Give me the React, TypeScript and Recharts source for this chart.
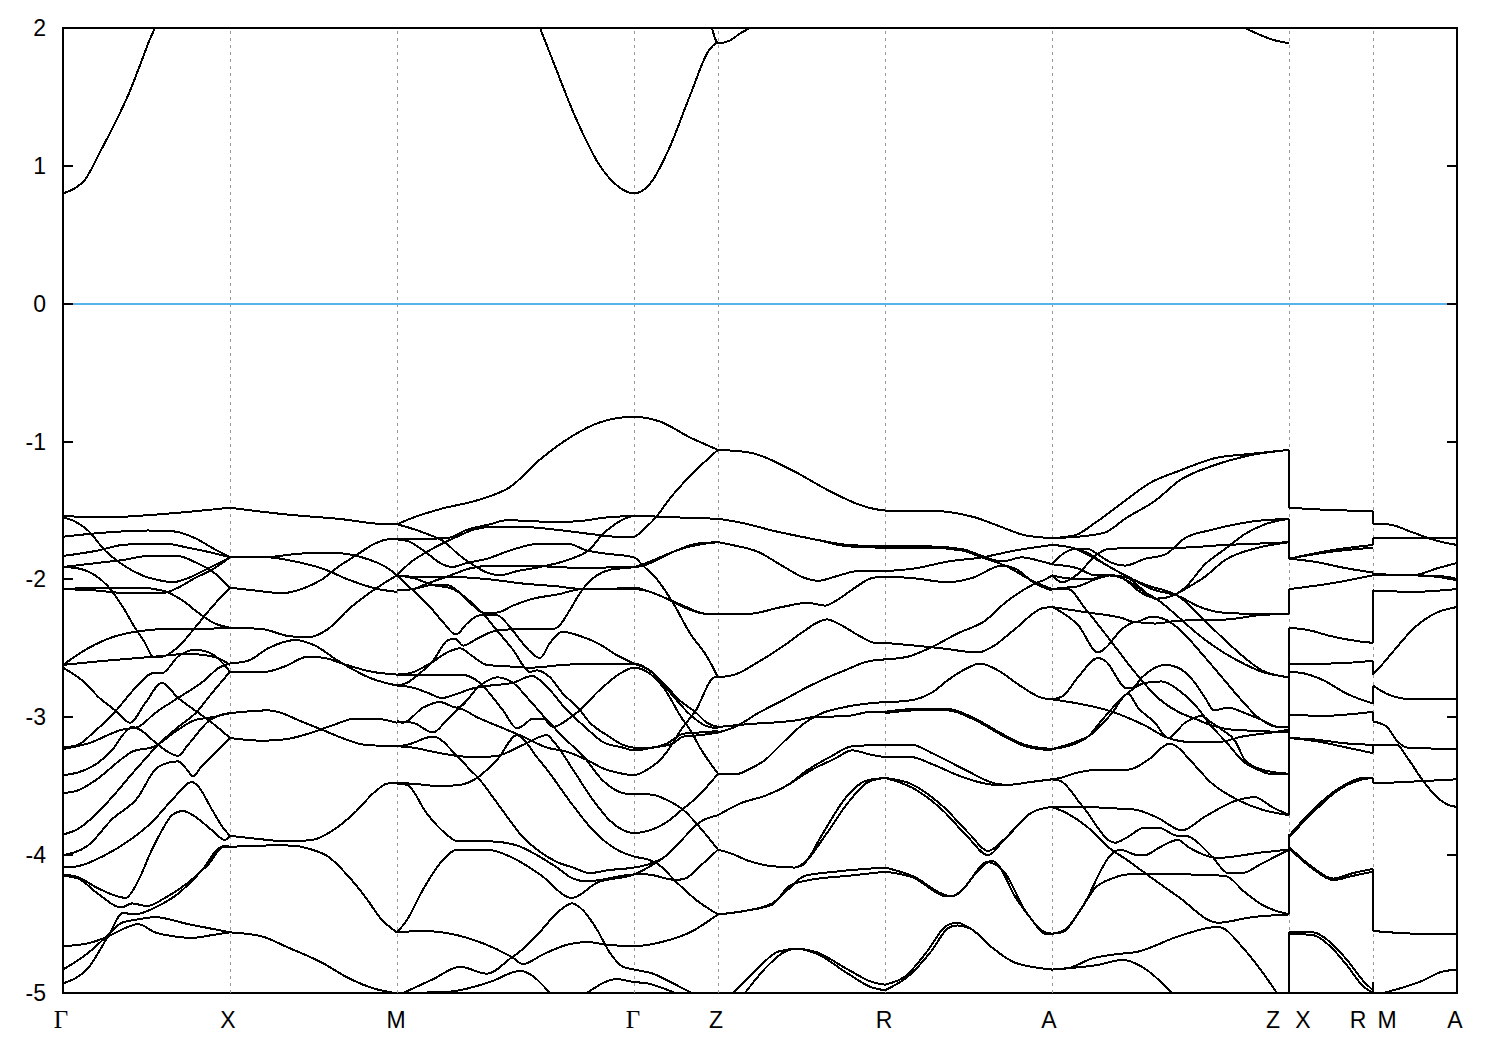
import { LineChart, Line, XAxis, YAxis, ReferenceLine, ReferenceArea } from "recharts";

type Band = [number, number][];

// ─── Axes ────────────────────────────────────────────────────────────────────
const K_MIN = 63;
const K_MAX = 1457;
const E_TICKS = [-5, -4, -3, -2, -1, 0, 1, 2];
const SYM_POINTS = [230, 397, 634, 718, 885, 1052, 1289, 1373];
const LABEL_POS = [63, 228, 396, 635, 716, 884, 1049, 1273, 1303, 1358, 1387, 1455];
const LABEL_TEXT = ["Γ", "X", "M", "Γ", "Z", "R", "A", "Z", "X", "R", "M", "A"];

// ─── Conduction band ─────────────────────────────────────────────────────────
const conduction: Band[] = [
  [[63, 0.8], [73, 0.83], [85, 0.9], [100, 1.1], [115, 1.31], [128, 1.51], [140, 1.73], [150, 1.92], [155, 2]],
  [[540, 2], [553, 1.76], [575, 1.36], [600, 1.0], [615, 0.87], [634, 0.8], [650, 0.87], [670, 1.14], [690, 1.51], [710, 1.85], [718, 1.9]],
  [[712, 2], [718, 1.89], [730, 1.91], [740, 1.96], [750, 2]],
  [[1245, 2], [1260, 1.95], [1275, 1.91], [1289, 1.89]],
];

// ─── Γ → X ───────────────────────────────────────────────────────────────────
const gammaX: Band[] = [
  [[63, -1.54], [105, -1.55], [155, -1.53], [230, -1.48]],
  [[63, -1.55], [75, -1.58], [88, -1.645], [105, -1.79], [122, -1.89], [142, -1.97], [162, -2.01], [173, -2.02], [188, -1.99], [208, -1.92], [230, -1.84]],
  [[63, -1.69], [105, -1.66], [148, -1.645], [172, -1.65], [195, -1.7], [212, -1.77], [230, -1.84]],
  [[63, -1.83], [98, -1.79], [122, -1.75], [148, -1.74], [165, -1.74], [188, -1.77], [208, -1.8], [230, -1.84]],
  [[63, -1.91], [98, -1.88], [122, -1.86], [148, -1.83], [178, -1.83], [195, -1.875], [212, -1.94], [230, -2.06]],
  [[63, -1.91], [78, -1.92], [95, -1.97], [108, -2.05], [122, -2.19], [135, -2.35], [145, -2.46], [153, -2.56], [162, -2.56], [178, -2.49], [195, -2.35], [212, -2.2], [230, -2.06]],
  [[63, -2.07], [105, -2.06], [138, -2.06], [162, -2.08], [182, -2.15], [198, -2.24], [215, -2.32], [230, -2.35]],
  [[63, -2.07], [95, -2.08], [128, -2.1], [162, -2.1], [178, -2.06], [195, -1.99], [212, -1.93], [230, -1.84]],
  [[63, -2.62], [88, -2.5], [112, -2.42], [135, -2.38], [165, -2.36], [195, -2.36], [230, -2.35]],
  [[63, -2.62], [105, -2.59], [155, -2.56], [188, -2.54], [205, -2.55], [218, -2.57], [230, -2.62]],
  [[63, -3.22], [78, -3.2], [92, -3.12], [115, -2.96], [135, -2.79], [153, -2.68], [162, -2.68], [178, -2.56], [195, -2.51], [212, -2.54], [230, -2.67]],
  [[63, -2.64], [85, -2.75], [98, -2.85], [117, -2.96], [130, -3.04], [145, -2.9], [162, -2.75], [178, -2.86], [195, -2.95], [212, -3.04], [230, -3.15]],
  [[63, -3.23], [88, -3.19], [122, -3.09], [138, -3.07], [155, -2.97], [178, -2.86], [205, -2.73], [218, -2.645], [230, -2.61]],
  [[63, -3.42], [78, -3.4], [98, -3.33], [112, -3.24], [125, -3.11], [132, -3.07], [140, -3.09], [155, -3.18], [170, -3.26], [178, -3.28], [188, -3.2], [210, -3.02], [222, -2.98], [230, -2.97]],
  [[63, -3.55], [78, -3.53], [95, -3.46], [122, -3.3], [132, -3.25], [155, -3.21], [178, -3.09], [195, -3.02], [212, -3.0], [230, -2.97]],
  [[63, -3.85], [78, -3.81], [92, -3.73], [112, -3.58], [132, -3.41], [143, -3.32], [158, -3.2], [180, -3.06], [197, -2.96], [208, -2.86], [230, -2.67]],
  [[63, -4.0], [88, -3.93], [112, -3.74], [138, -3.58], [155, -3.38], [168, -3.33], [178, -3.32], [187, -3.38], [193, -3.43], [200, -3.37], [212, -3.28], [230, -3.15]],
  [[63, -4.09], [78, -4.08], [105, -4.0], [132, -3.88], [152, -3.76], [172, -3.6], [192, -3.47], [198, -3.5], [212, -3.67], [222, -3.79], [230, -3.86]],
  [[63, -4.14], [78, -4.16], [98, -4.24], [126, -4.31], [135, -4.23], [152, -3.96], [162, -3.82], [172, -3.71], [183, -3.68], [195, -3.72], [212, -3.82], [225, -3.89], [230, -3.86]],
  [[63, -4.15], [78, -4.17], [98, -4.28], [121, -4.38], [132, -4.35], [147, -4.37], [165, -4.31], [188, -4.2], [208, -4.07], [225, -3.93], [230, -3.94]],
  [[63, -4.93], [88, -4.82], [108, -4.59], [123, -4.42], [135, -4.43], [155, -4.38], [178, -4.28], [202, -4.11], [222, -3.94], [230, -3.94]],
  [[63, -4.83], [88, -4.71], [108, -4.58], [122, -4.49], [135, -4.47], [155, -4.45], [188, -4.5], [230, -4.56]],
  [[63, -4.66], [88, -4.64], [108, -4.59], [125, -4.53], [138, -4.5], [155, -4.56], [175, -4.59], [192, -4.6], [212, -4.58], [230, -4.56]],
];

// ─── X → M ───────────────────────────────────────────────────────────────────
const xM: Band[] = [
  [[230, -1.48], [288, -1.53], [338, -1.56], [388, -1.6], [397, -1.6]],
  [[230, -1.84], [262, -1.84], [308, -1.81], [338, -1.81], [362, -1.84], [388, -1.92], [397, -1.97]],
  [[230, -1.84], [268, -1.84], [295, -1.87], [322, -1.92], [348, -2.0], [378, -2.07], [397, -2.09]],
  [[230, -2.06], [255, -2.08], [282, -2.1], [305, -2.06], [322, -2.0], [338, -1.91], [355, -1.83], [375, -1.74], [388, -1.71], [397, -1.71]],
  [[230, -2.35], [262, -2.36], [288, -2.41], [308, -2.42], [328, -2.36], [348, -2.22], [375, -2.07], [397, -1.97]],
  [[230, -2.61], [248, -2.59], [268, -2.5], [295, -2.44], [315, -2.48], [338, -2.59], [372, -2.72], [397, -2.77]],
  [[230, -2.67], [265, -2.67], [285, -2.63], [308, -2.56], [325, -2.57], [342, -2.61], [372, -2.67], [397, -2.69]],
  [[230, -2.97], [268, -2.95], [282, -2.97], [298, -3.02], [322, -3.09], [342, -3.15], [365, -3.2], [397, -3.21]],
  [[230, -3.15], [262, -3.17], [285, -3.16], [308, -3.12], [332, -3.06], [355, -3.01], [375, -3.01], [397, -3.04]],
  [[230, -3.86], [255, -3.88], [288, -3.9], [312, -3.89], [335, -3.81], [355, -3.69], [375, -3.54], [388, -3.48], [397, -3.48]],
  [[230, -3.94], [268, -3.93], [288, -3.93], [312, -3.96], [328, -4.01], [348, -4.15], [365, -4.3], [382, -4.47], [395, -4.55], [397, -4.56]],
  [[230, -4.56], [262, -4.59], [288, -4.67], [322, -4.78], [348, -4.89], [375, -4.97], [395, -5]],
];

// ─── M → Γ → Z ───────────────────────────────────────────────────────────────
const mGammaZ: Band[] = [
  [[397, -1.6], [410, -1.56], [440, -1.49], [480, -1.42], [510, -1.33], [540, -1.13], [570, -0.97], [600, -0.86], [634, -0.82], [660, -0.855], [690, -0.97], [718, -1.06]],
  [[397, -1.6], [407, -1.62], [427, -1.67], [445, -1.73], [457, -1.81], [470, -1.88], [487, -1.95], [500, -1.97], [517, -1.94], [540, -1.91], [567, -1.86], [590, -1.78], [603, -1.67], [617, -1.59], [634, -1.54], [677, -1.55], [718, -1.56]],
  [[397, -1.71], [447, -1.7], [467, -1.64], [490, -1.6], [507, -1.57], [540, -1.58], [573, -1.58], [607, -1.55], [634, -1.54], [677, -1.55], [718, -1.56]],
  [[397, -1.97], [410, -1.88], [427, -1.8], [445, -1.73], [457, -1.69], [473, -1.64], [490, -1.62], [523, -1.62], [557, -1.64], [590, -1.67], [617, -1.69], [634, -1.69], [643, -1.64], [657, -1.54], [668, -1.43], [690, -1.25], [718, -1.06]],
  [[397, -1.71], [407, -1.72], [427, -1.81], [440, -1.88], [452, -1.91], [467, -1.88], [487, -1.85], [510, -1.79], [540, -1.74], [567, -1.74], [587, -1.79], [603, -1.81], [634, -1.84], [643, -1.9], [657, -2.0], [673, -2.17], [690, -2.39], [707, -2.56], [718, -2.71]],
  [[397, -1.97], [413, -1.98], [447, -1.98], [490, -2.0], [523, -2.03], [557, -2.05], [583, -2.07], [603, -2.07], [634, -2.07], [650, -2.09], [667, -2.14], [683, -2.19], [707, -2.25], [718, -2.25]],
  [[397, -2.08], [413, -2.07], [427, -2.03], [447, -1.98], [470, -1.92], [493, -1.9], [523, -1.9], [557, -1.91], [590, -1.92], [617, -1.91], [634, -1.91], [643, -1.9], [657, -1.86], [673, -1.8], [697, -1.75], [718, -1.73]],
  [[397, -1.97], [413, -2.08], [430, -2.2], [443, -2.31], [456, -2.4], [467, -2.32], [480, -2.26], [497, -2.26], [507, -2.32], [517, -2.41], [527, -2.5], [540, -2.57], [550, -2.46], [562, -2.38], [580, -2.41], [597, -2.46], [617, -2.55], [634, -2.61], [650, -2.66], [667, -2.78], [680, -2.88], [695, -2.96], [707, -3.04], [718, -3.07]],
  [[397, -1.97], [413, -1.99], [433, -2.04], [453, -2.07], [467, -2.14], [482, -2.24], [497, -2.37], [513, -2.51], [530, -2.67], [537, -2.66], [550, -2.71], [563, -2.83], [578, -2.93], [590, -3.04], [607, -3.13], [623, -3.2], [634, -3.22], [650, -3.22], [667, -3.19], [683, -3.12], [700, -3.11], [718, -3.1]],
  [[397, -2.08], [413, -2.07], [433, -2.04], [447, -2.04], [457, -2.08], [473, -2.19], [483, -2.24], [497, -2.24], [513, -2.19], [533, -2.14], [557, -2.11], [583, -2.07], [603, -2.07], [634, -2.06], [650, -2.09], [667, -2.14], [683, -2.2], [707, -2.25], [718, -2.25]],
  [[397, -2.69], [410, -2.68], [430, -2.61], [450, -2.52], [460, -2.5], [473, -2.56], [487, -2.62], [507, -2.63], [530, -2.64], [563, -2.62], [597, -2.61], [634, -2.61], [653, -2.68], [670, -2.82], [690, -2.98], [705, -3.06], [718, -3.08]],
  [[397, -2.77], [407, -2.75], [420, -2.68], [433, -2.59], [448, -2.44], [455, -2.43], [463, -2.48], [477, -2.43], [497, -2.37], [523, -2.36], [553, -2.36], [560, -2.33], [570, -2.22], [580, -2.1], [590, -2.01], [597, -1.97], [610, -1.93], [634, -1.91], [650, -1.87], [673, -1.8], [697, -1.74], [718, -1.73]],
  [[397, -2.69], [460, -2.69], [480, -2.75], [490, -2.83], [503, -2.95], [517, -3.08], [523, -3.06], [533, -3.01], [543, -3.01], [553, -3.07], [567, -3.02], [578, -2.96], [600, -2.8], [623, -2.67], [634, -2.64], [647, -2.67], [663, -2.78], [683, -3.02], [690, -3.09], [700, -3.22], [718, -3.41]],
  [[397, -2.77], [410, -2.78], [427, -2.82], [442, -2.86], [457, -2.83], [473, -2.79], [490, -2.77], [513, -2.75], [532, -2.7], [547, -2.78], [567, -2.95], [585, -3.07], [603, -3.18], [623, -3.22], [634, -3.24], [653, -3.22], [673, -3.19], [683, -3.14], [700, -3.13], [718, -3.11]],
  [[397, -3.03], [403, -3.04], [423, -2.93], [440, -2.89], [457, -2.93], [480, -2.77], [497, -2.71], [513, -2.75], [530, -2.88], [547, -3.02], [567, -3.17], [583, -3.28], [603, -3.46], [623, -3.55], [634, -3.56], [650, -3.56], [667, -3.6], [683, -3.67], [700, -3.8], [718, -3.96]],
  [[397, -3.03], [413, -3.04], [433, -3.11], [447, -3.02], [460, -2.94], [477, -3.0], [500, -3.07], [523, -3.14], [547, -3.22], [567, -3.25], [587, -3.31], [603, -3.37], [623, -3.41], [634, -3.42], [647, -3.38], [660, -3.31], [667, -3.25], [683, -3.07], [695, -2.96], [715, -2.71], [718, -2.71]],
  [[397, -3.21], [413, -3.22], [433, -3.25], [457, -3.28], [477, -3.29], [497, -3.28], [523, -3.2], [547, -3.13], [553, -3.17], [573, -3.38], [593, -3.6], [610, -3.75], [634, -3.84], [650, -3.82], [667, -3.76], [682, -3.67], [697, -3.58], [718, -3.41]],
  [[397, -3.21], [407, -3.2], [433, -3.14], [457, -3.28], [470, -3.38], [477, -3.43], [500, -3.65], [523, -3.87], [537, -3.96], [557, -4.05], [573, -4.09], [590, -4.13], [607, -4.11], [634, -4.09], [647, -4.07], [667, -4.0], [683, -3.88], [700, -3.76], [718, -3.71]],
  [[397, -3.48], [407, -3.48], [440, -3.5], [460, -3.49], [477, -3.44], [487, -3.38], [497, -3.31], [517, -3.13], [522, -3.15], [537, -3.29], [547, -3.38], [573, -3.64], [593, -3.82], [617, -3.96], [634, -4.01], [647, -4.03], [657, -4.06], [677, -4.2], [697, -4.33], [718, -4.43]],
  [[397, -3.48], [407, -3.49], [427, -3.7], [445, -3.84], [458, -3.9], [490, -3.9], [517, -3.93], [537, -4.0], [557, -4.09], [573, -4.17], [587, -4.19], [600, -4.18], [634, -4.14], [647, -4.14], [675, -4.18], [685, -4.17], [700, -4.08], [718, -3.96]],
  [[397, -4.56], [407, -4.47], [423, -4.25], [440, -4.06], [458, -3.96], [487, -3.96], [513, -4.02], [540, -4.14], [572, -4.31], [597, -4.2], [634, -4.14], [657, -4.05], [667, -4.0], [683, -3.88], [700, -3.76], [718, -3.71]],
  [[397, -4.56], [423, -4.55], [457, -4.58], [483, -4.64], [512, -4.74], [523, -4.79], [543, -4.72], [567, -4.65], [587, -4.63], [607, -4.65], [634, -4.66], [667, -4.62], [690, -4.56], [718, -4.43]],
  [[403, -5], [433, -4.9], [460, -4.81], [487, -4.86], [512, -4.74], [518, -4.71], [537, -4.58], [560, -4.4], [572, -4.35], [583, -4.4], [597, -4.54], [610, -4.71], [623, -4.81], [634, -4.83], [653, -4.86], [673, -4.93], [692, -5]],
  [[403, -5], [450, -4.99], [490, -4.92], [520, -4.84], [550, -5]],
  [[587, -5], [617, -4.9], [634, -4.92], [647, -4.93], [675, -5]],
];

// ─── Z → R ───────────────────────────────────────────────────────────────────
const zR: Band[] = [
  [[718, -1.06], [750, -1.08], [790, -1.2], [830, -1.36], [860, -1.46], [875, -1.49], [885, -1.5]],
  [[718, -1.56], [742, -1.59], [775, -1.65], [815, -1.71], [848, -1.75], [885, -1.76]],
  [[718, -1.56], [742, -1.59], [775, -1.65], [815, -1.71], [848, -1.76], [885, -1.77]],
  [[718, -1.73], [732, -1.75], [758, -1.8], [782, -1.9], [805, -1.99], [818, -2.01], [835, -1.98], [858, -1.94], [885, -1.94]],
  [[718, -2.25], [748, -2.25], [782, -2.2], [808, -2.17], [825, -2.19], [837, -2.15], [855, -2.06], [872, -1.99], [885, -1.98]],
  [[718, -2.71], [735, -2.69], [758, -2.6], [782, -2.49], [805, -2.37], [818, -2.31], [827, -2.29], [838, -2.32], [862, -2.42], [875, -2.46], [885, -2.46]],
  [[718, -3.11], [735, -3.07], [758, -2.97], [782, -2.88], [805, -2.79], [828, -2.71], [848, -2.65], [865, -2.6], [885, -2.58]],
  [[718, -3.07], [748, -3.05], [798, -3.02], [812, -3.0], [848, -2.99], [872, -2.96], [885, -2.96]],
  [[718, -3.41], [738, -3.41], [748, -3.38], [765, -3.31], [782, -3.19], [805, -3.04], [822, -2.97], [842, -2.93], [868, -2.9], [885, -2.89]],
  [[718, -3.71], [742, -3.62], [765, -3.57], [788, -3.49], [808, -3.38], [832, -3.28], [852, -3.21], [885, -3.2]],
  [[718, -3.71], [742, -3.62], [765, -3.57], [788, -3.49], [812, -3.38], [835, -3.3], [852, -3.24], [870, -3.27], [885, -3.29]],
  [[718, -3.96], [732, -3.99], [748, -4.04], [772, -4.08], [795, -4.09], [805, -4.05], [825, -3.86], [848, -3.62], [868, -3.47], [885, -3.44]],
  [[795, -4.09], [803, -4.07], [823, -3.84], [845, -3.59], [866, -3.46], [885, -3.44]],
  [[718, -4.43], [748, -4.4], [772, -4.35], [785, -4.27], [805, -4.15], [835, -4.12], [885, -4.09]],
  [[718, -4.43], [748, -4.4], [772, -4.36], [790, -4.22], [810, -4.18], [848, -4.15], [885, -4.12]],
  [[733, -5], [758, -4.82], [778, -4.7], [797, -4.68], [815, -4.7], [848, -4.83], [872, -4.92], [885, -4.94]],
  [[745, -5], [768, -4.8], [785, -4.7], [797, -4.68], [815, -4.71], [848, -4.86], [872, -4.96], [885, -4.98]],
];

// ─── R → A ───────────────────────────────────────────────────────────────────
const rA: Band[] = [
  [[885, -1.5], [925, -1.5], [948, -1.51], [975, -1.55], [998, -1.61], [1025, -1.68], [1052, -1.7]],
  [[885, -1.76], [928, -1.76], [962, -1.78], [982, -1.83], [1002, -1.87], [1022, -1.84], [1042, -1.87], [1052, -1.89]],
  [[885, -1.77], [928, -1.77], [962, -1.79], [982, -1.84], [1005, -1.9], [1035, -2.02], [1052, -2.07]],
  [[885, -1.94], [915, -1.92], [948, -1.87], [982, -1.84], [1015, -1.79], [1052, -1.75]],
  [[885, -1.98], [912, -1.99], [948, -2.02], [972, -1.99], [1002, -1.9], [1015, -1.92], [1035, -2.03], [1052, -2.08]],
  [[885, -2.46], [915, -2.48], [942, -2.5], [978, -2.53], [992, -2.49], [1015, -2.36], [1042, -2.21], [1052, -2.2]],
  [[885, -2.58], [908, -2.56], [932, -2.49], [958, -2.39], [985, -2.3], [1005, -2.17], [1035, -2.03], [1048, -1.99], [1052, -1.97]],
  [[885, -2.96], [915, -2.94], [948, -2.94], [975, -3.01], [1002, -3.12], [1025, -3.2], [1052, -3.23]],
  [[885, -2.97], [915, -2.95], [948, -2.95], [975, -3.02], [1002, -3.13], [1025, -3.21], [1052, -3.24]],
  [[885, -2.89], [908, -2.88], [932, -2.82], [948, -2.73], [968, -2.64], [980, -2.61], [998, -2.66], [1022, -2.78], [1042, -2.86], [1052, -2.87]],
  [[885, -3.2], [912, -3.2], [932, -3.26], [965, -3.38], [995, -3.48], [1008, -3.49], [1030, -3.47], [1052, -3.45]],
  [[885, -3.29], [912, -3.29], [932, -3.34], [965, -3.44], [995, -3.49], [1008, -3.49], [1030, -3.47], [1052, -3.45]],
  [[885, -3.44], [912, -3.51], [942, -3.67], [968, -3.87], [988, -4.0], [1005, -3.88], [1032, -3.69], [1052, -3.65]],
  [[885, -3.44], [910, -3.48], [942, -3.64], [970, -3.85], [988, -3.97], [1005, -3.88], [1032, -3.69], [1052, -3.65]],
  [[885, -4.09], [915, -4.16], [942, -4.28], [952, -4.3], [965, -4.23], [987, -4.05], [1005, -4.13], [1025, -4.4], [1045, -4.56], [1052, -4.57]],
  [[885, -4.12], [912, -4.16], [948, -4.3], [958, -4.28], [975, -4.14], [992, -4.04], [998, -4.07], [1015, -4.3], [1032, -4.47], [1045, -4.57], [1052, -4.57]],
  [[885, -4.94], [905, -4.88], [928, -4.69], [945, -4.52], [957, -4.49], [972, -4.54], [992, -4.67], [1015, -4.78], [1052, -4.83]],
  [[885, -4.98], [908, -4.88], [932, -4.69], [948, -4.53], [957, -4.51], [972, -4.54], [992, -4.67], [1015, -4.78], [1052, -4.83]],
];

// ─── A → Z ───────────────────────────────────────────────────────────────────
const aZ: Band[] = [
  [[1052, -1.7], [1075, -1.68], [1095, -1.59], [1125, -1.43], [1150, -1.3], [1180, -1.21], [1215, -1.12], [1250, -1.09], [1289, -1.06]],
  [[1052, -1.7], [1078, -1.69], [1105, -1.66], [1125, -1.56], [1155, -1.43], [1180, -1.28], [1215, -1.17], [1250, -1.1], [1289, -1.06]],
  [[1052, -1.75], [1072, -1.77], [1088, -1.81], [1105, -1.89], [1128, -1.98], [1152, -2.07], [1178, -2.12], [1200, -2.2], [1222, -2.24], [1258, -2.25], [1289, -2.25]],
  [[1052, -1.75], [1072, -1.77], [1090, -1.83], [1110, -1.91], [1130, -1.99], [1150, -2.05], [1165, -2.08], [1178, -2.12], [1202, -2.28], [1222, -2.42], [1245, -2.57], [1262, -2.66], [1289, -2.71]],
  [[1052, -1.89], [1062, -1.82], [1075, -1.78], [1088, -1.78], [1098, -1.82], [1112, -1.88], [1125, -1.9], [1145, -1.85], [1165, -1.82], [1185, -1.7], [1212, -1.64], [1252, -1.58], [1289, -1.56]],
  [[1052, -1.89], [1078, -1.92], [1095, -1.97], [1108, -1.97], [1125, -2.0], [1142, -2.08], [1158, -2.15], [1178, -2.27], [1195, -2.38], [1215, -2.49], [1238, -2.59], [1262, -2.67], [1289, -2.71]],
  [[1052, -1.97], [1062, -2.02], [1078, -1.96], [1095, -1.83], [1108, -1.78], [1138, -1.77], [1178, -1.77], [1225, -1.75], [1258, -1.74], [1289, -1.73]],
  [[1052, -1.97], [1065, -1.99], [1088, -2.0], [1108, -1.97], [1122, -1.99], [1142, -2.1], [1158, -2.14], [1172, -2.12], [1185, -2.06], [1205, -1.89], [1225, -1.78], [1245, -1.67], [1265, -1.6], [1289, -1.56]],
  [[1052, -2.07], [1065, -2.06], [1078, -2.05], [1095, -2.0], [1112, -1.97], [1128, -1.99], [1142, -2.07], [1155, -2.14], [1172, -2.12], [1185, -2.07], [1205, -1.98], [1225, -1.86], [1258, -1.77], [1289, -1.73]],
  [[1052, -2.07], [1068, -2.07], [1085, -2.21], [1108, -2.42], [1128, -2.61], [1138, -2.7], [1158, -2.86], [1178, -2.96], [1195, -3.01], [1212, -3.06], [1232, -3.09], [1262, -3.1], [1289, -3.11]],
  [[1052, -2.2], [1062, -2.24], [1078, -2.33], [1098, -2.53], [1105, -2.5], [1122, -2.36], [1135, -2.31], [1155, -2.32], [1178, -2.3], [1228, -2.29], [1258, -2.26], [1289, -2.25]],
  [[1052, -2.2], [1088, -2.24], [1122, -2.28], [1135, -2.31], [1152, -2.27], [1168, -2.3], [1182, -2.38], [1202, -2.54], [1222, -2.71], [1242, -2.88], [1258, -3.0], [1278, -3.07], [1289, -3.07]],
  [[1052, -2.87], [1078, -2.9], [1108, -2.95], [1145, -3.06], [1168, -3.15], [1192, -3.18], [1218, -3.18], [1242, -3.14], [1272, -3.11], [1289, -3.09]],
  [[1052, -2.87], [1062, -2.85], [1078, -2.71], [1098, -2.57], [1105, -2.59], [1127, -2.79], [1132, -2.79], [1142, -2.71], [1165, -2.62], [1178, -2.64], [1195, -2.75], [1206, -2.87], [1214, -2.95], [1228, -2.93], [1245, -2.97], [1262, -3.02], [1278, -3.07], [1289, -3.07]],
  [[1052, -3.23], [1072, -3.2], [1088, -3.14], [1102, -3.02], [1125, -2.84], [1145, -2.75], [1162, -2.74], [1178, -2.8], [1195, -2.91], [1212, -3.07], [1225, -3.17], [1245, -3.33], [1258, -3.38], [1270, -3.41], [1289, -3.41]],
  [[1052, -3.23], [1075, -3.18], [1090, -3.13], [1112, -2.97], [1128, -2.83], [1138, -2.93], [1155, -3.04], [1168, -3.15], [1185, -3.04], [1202, -2.99], [1208, -3.02], [1222, -3.09], [1235, -3.17], [1245, -3.31], [1262, -3.38], [1289, -3.41]],
  [[1052, -3.45], [1060, -3.44], [1078, -3.4], [1102, -3.38], [1128, -3.38], [1148, -3.31], [1170, -3.19], [1178, -3.22], [1190, -3.31], [1212, -3.48], [1238, -3.6], [1262, -3.67], [1289, -3.71]],
  [[1052, -3.45], [1060, -3.46], [1082, -3.64], [1115, -3.91], [1125, -3.88], [1145, -3.8], [1158, -3.8], [1178, -3.86], [1185, -3.86], [1212, -4.01], [1228, -4.13], [1242, -4.13], [1262, -4.06], [1289, -3.96]],
  [[1052, -3.65], [1082, -3.65], [1112, -3.66], [1135, -3.67], [1158, -3.73], [1182, -3.82], [1205, -3.72], [1238, -3.6], [1255, -3.58], [1272, -3.65], [1289, -3.71]],
  [[1052, -3.65], [1068, -3.7], [1088, -3.8], [1108, -3.94], [1128, -4.04], [1145, -4.13], [1178, -4.3], [1218, -4.49], [1252, -4.45], [1289, -4.43]],
  [[1052, -4.57], [1065, -4.54], [1082, -4.38], [1112, -3.99], [1120, -3.96], [1138, -4.0], [1145, -4.0], [1158, -3.95], [1178, -3.89], [1188, -3.94], [1218, -4.02], [1262, -3.98], [1289, -3.96]],
  [[1052, -4.57], [1062, -4.56], [1082, -4.38], [1095, -4.24], [1112, -4.17], [1128, -4.14], [1145, -4.14], [1188, -4.14], [1225, -4.15], [1245, -4.27], [1262, -4.36], [1289, -4.43]],
  [[1052, -4.83], [1068, -4.82], [1092, -4.75], [1115, -4.72], [1138, -4.7], [1178, -4.59], [1218, -4.52], [1245, -4.69], [1277, -5]],
  [[1052, -4.83], [1068, -4.82], [1095, -4.8], [1123, -4.76], [1142, -4.81], [1172, -5]],
];

// ─── X → R ───────────────────────────────────────────────────────────────────
const xR: Band[] = [
  [[1289, -1.48], [1313, -1.49], [1347, -1.5], [1373, -1.5]],
  [[1289, -1.85], [1330, -1.79], [1373, -1.75]],
  [[1289, -1.85], [1330, -1.8], [1373, -1.77]],
  [[1289, -1.85], [1313, -1.87], [1347, -1.92], [1373, -1.95]],
  [[1289, -2.07], [1330, -2.03], [1373, -1.97]],
  [[1289, -2.35], [1310, -2.37], [1330, -2.41], [1360, -2.45], [1373, -2.46]],
  [[1289, -2.61], [1330, -2.61], [1373, -2.59]],
  [[1289, -2.67], [1303, -2.68], [1323, -2.73], [1347, -2.83], [1373, -2.9]],
  [[1289, -2.98], [1323, -2.99], [1347, -2.98], [1373, -2.96]],
  [[1289, -3.15], [1313, -3.16], [1347, -3.19], [1373, -3.2]],
  [[1289, -3.15], [1313, -3.17], [1347, -3.22], [1373, -3.26]],
  [[1289, -3.86], [1313, -3.67], [1340, -3.51], [1363, -3.44], [1373, -3.44]],
  [[1289, -3.87], [1313, -3.69], [1340, -3.52], [1363, -3.45], [1373, -3.44]],
  [[1289, -3.94], [1313, -4.09], [1333, -4.17], [1353, -4.13], [1373, -4.1]],
  [[1289, -3.95], [1313, -4.1], [1333, -4.18], [1353, -4.15], [1373, -4.12]],
  [[1289, -4.56], [1313, -4.56], [1330, -4.63], [1347, -4.76], [1363, -4.91], [1373, -4.98]],
  [[1289, -4.57], [1313, -4.58], [1330, -4.66], [1347, -4.8], [1363, -4.95], [1373, -5]],
];

// ─── M → A ───────────────────────────────────────────────────────────────────
const mA: Band[] = [
  [[1373, -1.6], [1387, -1.6], [1413, -1.66], [1437, -1.72], [1457, -1.75]],
  [[1373, -1.7], [1413, -1.7], [1457, -1.7]],
  [[1373, -1.96], [1413, -1.97], [1437, -1.92], [1457, -1.88]],
  [[1373, -1.97], [1413, -1.97], [1447, -1.98], [1457, -2.0]],
  [[1373, -1.97], [1413, -1.97], [1447, -1.99], [1457, -2.01]],
  [[1373, -2.08], [1413, -2.09], [1457, -2.07]],
  [[1373, -2.69], [1383, -2.61], [1397, -2.49], [1413, -2.36], [1437, -2.24], [1457, -2.2]],
  [[1373, -2.77], [1390, -2.84], [1413, -2.87], [1457, -2.87]],
  [[1373, -3.03], [1387, -3.07], [1397, -3.17], [1407, -3.22], [1457, -3.23]],
  [[1373, -3.2], [1397, -3.2], [1407, -3.29], [1423, -3.46], [1437, -3.58], [1450, -3.64], [1457, -3.65]],
  [[1373, -3.48], [1403, -3.47], [1457, -3.45]],
  [[1373, -4.55], [1420, -4.57], [1457, -4.57]],
  [[1383, -5], [1403, -4.96], [1423, -4.91], [1440, -4.85], [1457, -4.83]],
];

// vertical jumps where the path is broken
const jumps: Band[] = [
  [[1289, -1.06], [1289, -1.48]],
  [[1289, -1.56], [1289, -1.85]],
  [[1289, -2.07], [1289, -2.25]],
  [[1289, -2.35], [1289, -3.71]],
  [[1289, -3.85], [1289, -4.43]],
  [[1289, -4.56], [1289, -5]],
  [[1373, -1.5], [1373, -1.6]],
  [[1373, -1.7], [1373, -1.75]],
  [[1373, -1.95], [1373, -1.97]],
  [[1373, -2.08], [1373, -2.46]],
  [[1373, -2.59], [1373, -2.69]],
  [[1373, -2.77], [1373, -2.9]],
  [[1373, -2.96], [1373, -3.03]],
  [[1373, -3.2], [1373, -3.26]],
  [[1373, -3.44], [1373, -3.48]],
  [[1373, -4.1], [1373, -4.55]],
  [[1373, -4.92], [1373, -5]],
];

const PLOT_W = K_MAX - K_MIN;
const PLOT_H = 965;
const MARK = 10;
const FONT = "'Liberation Sans', Arial, sans-serif";

function EnergyTick({ x, y, payload }: any) {
  return (
    <g shapeRendering="crispEdges">
      <line x1={x} y1={y} x2={x + MARK} y2={y} stroke="#000" strokeWidth={2} />
      <line x1={x + PLOT_W - MARK} y1={y} x2={x + PLOT_W} y2={y} stroke="#000" strokeWidth={2} />
      <text x={x - 17} y={y + 8} textAnchor="end" fontSize={23} fontFamily={FONT} fill="#000">
        {payload.value}
      </text>
    </g>
  );
}

function SymMark({ x, y }: any) {
  return (
    <g shapeRendering="crispEdges">
      <line x1={x} y1={y} x2={x} y2={y + MARK} stroke="#000" strokeWidth={2} />
      <line x1={x} y1={y + PLOT_H - MARK} x2={x} y2={y + PLOT_H} stroke="#000" strokeWidth={2} />
    </g>
  );
}

function KLabel({ x, y, payload, index }: any) {
  const text = LABEL_TEXT[index ?? LABEL_POS.indexOf(payload.value)];
  const isGamma = text === "Γ";
  return (
    <text
      x={isGamma ? x - 2 : x}
      y={y + 35}
      textAnchor="middle"
      fontSize={isGamma ? 25 : 23}
      fontFamily={isGamma ? "'Liberation Serif', serif" : FONT}
      fill="#000"
    >
      {text}
    </text>
  );
}

const rows = (band: Band) => band.map(([k, e]) => ({ k, e }));
const smooth = [...conduction, ...gammaX, ...xM, ...mGammaZ, ...zR, ...rA, ...aZ, ...xR, ...mA];

export default function App() {
  return (
    <div style={{ position: "absolute", left: 0, top: 0, background: "#fff" }}>
      <LineChart width={1500} height={1050} margin={{ top: 0, right: 0, bottom: 0, left: 0 }}>
        <XAxis
          xAxisId="top"
          orientation="top"
          type="number"
          dataKey="k"
          domain={[K_MIN, K_MAX]}
          ticks={SYM_POINTS}
          interval={0}
          height={28}
          axisLine={false}
          tickLine={false}
          tickSize={0}
          tickMargin={0}
          tick={<SymMark />}
        />
        <XAxis
          type="number"
          dataKey="k"
          domain={[K_MIN, K_MAX]}
          ticks={LABEL_POS}
          interval={0}
          height={57}
          axisLine={false}
          tickLine={false}
          tickSize={0}
          tickMargin={0}
          tick={<KLabel />}
        />
        <YAxis
          type="number"
          domain={[-5, 2]}
          ticks={E_TICKS}
          interval={0}
          width={63}
          axisLine={false}
          tickLine={false}
          tickSize={0}
          tickMargin={0}
          tick={<EnergyTick />}
        />
        <YAxis yAxisId="right" orientation="right" width={43} axisLine={false} tickLine={false} tick={false} />

        {SYM_POINTS.map((k) => (
          <ReferenceLine key={k} x={k} stroke="#999" strokeWidth={1} strokeDasharray="3 4" shapeRendering="crispEdges" />
        ))}
        <ReferenceLine y={0} stroke="#56b4e9" strokeWidth={2} shapeRendering="crispEdges" />

        {smooth.map((band, i) => (
          <Line
            key={i}
            data={rows(band)}
            dataKey="e"
            type="monotone"
            stroke="#000"
            strokeWidth={2}
            shapeRendering="crispEdges"
            dot={false}
            activeDot={false}
            legendType="none"
            isAnimationActive={false}
          />
        ))}
        {jumps.map((band, i) => (
          <Line
            key={`j${i}`}
            data={rows(band)}
            dataKey="e"
            type="linear"
            stroke="#000"
            strokeWidth={2}
            shapeRendering="crispEdges"
            dot={false}
            activeDot={false}
            legendType="none"
            isAnimationActive={false}
          />
        ))}
        <ReferenceArea x1={K_MIN} x2={K_MAX} y1={-5} y2={2} fill="none" stroke="#000" strokeWidth={2} shapeRendering="crispEdges" />
      </LineChart>
    </div>
  );
}
